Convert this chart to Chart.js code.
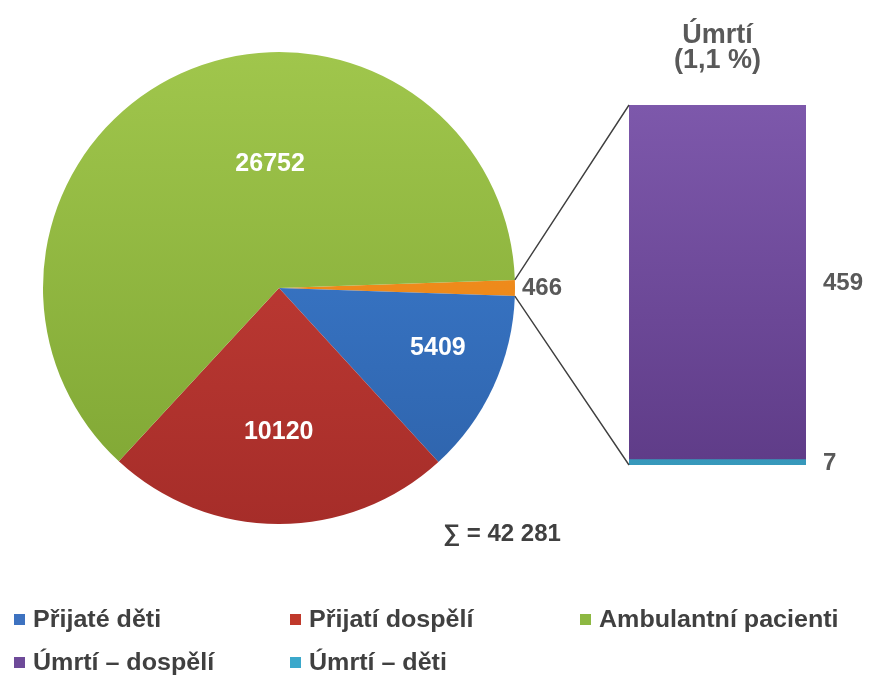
<!DOCTYPE html>
<html><head><meta charset="utf-8">
<script src="https://cdn.jsdelivr.net/npm/chart.js@4"></script>
<style>
html,body{margin:0;padding:0;background:#fff;}
#wrap{position:relative;width:869px;height:681px;overflow:hidden;background:#fff;}
canvas{position:absolute;left:0;top:0;}
</style></head>
<body>
<div id="wrap">
<canvas id="bar" width="869" height="681"></canvas>
<canvas id="pie" width="869" height="681"></canvas>
</div>
<script>
// ---- data ----
const pieCategories = ['Úmrtí', 'Přijaté děti', 'Přijatí dospělí', 'Ambulantní pacienti'];
const pieValues = [466, 5409, 10120, 26752];
const barCategories = ['Úmrtí – děti', 'Úmrtí – dospělí'];   // stacked bottom → top
const barValues = [7, 459];
const barTitle = ['Úmrtí', '(1,1 %)'];
const sumLabel = '∑ = 42 281';
const legendLabels = ['Přijaté děti', 'Přijatí dospělí', 'Ambulantní pacienti', 'Úmrtí – dospělí', 'Úmrtí – děti'];

// ---- styles ----
const FONT = '"Liberation Sans", Arial, sans-serif';
const pieGrad = [
  ['#F7951F', '#E57F17'],
  ['#3F82D8', '#2D61A8'],
  ['#CC423A', '#A62D29'],
  ['#A0C64C', '#7EA533']
];
const legendColors = ['#3D72C0', '#C0392B', '#8DB842', '#6E4A99', '#3BA8CB'];
const barColors = [['#45B1D3', '#3798BB'], ['#7D58AB', '#5F3C88']];

const pieTotal = pieValues.reduce((a, b) => a + b, 0);
const barTotal = barValues.reduce((a, b) => a + b, 0);

function vgrad(chart, stops) {
  const a = chart.chartArea;
  if (!a) return stops[0];
  const g = chart.ctx.createLinearGradient(0, a.top, 0, a.bottom);
  g.addColorStop(0, stops[0]);
  g.addColorStop(1, stops[1]);
  return g;
}

// ---- bar (pie-of-bar breakdown) ----
const barLabels = {
  id: 'barLabels',
  afterDatasetsDraw(chart) {
    const ctx = chart.ctx, a = chart.chartArea;
    ctx.save();
    ctx.fillStyle = '#595959';
    ctx.font = 'bold 24px ' + FONT;
    ctx.textAlign = 'left';
    ctx.textBaseline = 'middle';
    chart.data.datasets.forEach((ds, i) => {
      const el = chart.getDatasetMeta(i).data[0];
      ctx.fillText(String(ds.data[0]), a.right + 17, (el.y + el.base) / 2 + 1);
    });
    ctx.textAlign = 'center';
    ctx.textBaseline = 'alphabetic';
    ctx.font = 'bold 27px ' + FONT;
    const cx = (a.left + a.right) / 2;
    ctx.fillText(barTitle[0], cx, a.top - 62);
    ctx.fillText(barTitle[1], cx, a.top - 37);
    ctx.restore();
  }
};

const barChart = new Chart(document.getElementById('bar'), {
  type: 'bar',
  data: {
    labels: ['Úmrtí'],
    datasets: barCategories.map((name, i) => ({
      label: name,
      data: [barValues[i]],
      backgroundColor: c => vgrad(c.chart, barColors[i]),
      borderWidth: 0,
      categoryPercentage: 1,
      barPercentage: 1
    }))
  },
  options: {
    responsive: false,
    animation: false,
    layout: { padding: { left: 629, right: 63, top: 105, bottom: 216 } },
    scales: {
      x: { display: false, stacked: true },
      y: { display: false, stacked: true, min: 0, max: barTotal }
    },
    plugins: { legend: { display: false }, tooltip: { enabled: false } }
  },
  plugins: [barLabels]
});

// ---- pie ----
const pieExtras = {
  id: 'pieExtras',
  afterDatasetsDraw(chart, args, opts) {
    const ctx = chart.ctx;
    const arcs = chart.getDatasetMeta(0).data;
    ctx.save();
    // connector lines from the small slice to the bar
    const o = arcs[0];
    const ba = barChart.chartArea;
    ctx.strokeStyle = '#3F3F3F';
    ctx.lineWidth = 1.4;
    ctx.beginPath();
    ctx.moveTo(o.x + o.outerRadius * Math.cos(o.startAngle), o.y + o.outerRadius * Math.sin(o.startAngle));
    ctx.lineTo(ba.left, ba.top);
    ctx.moveTo(o.x + o.outerRadius * Math.cos(o.endAngle), o.y + o.outerRadius * Math.sin(o.endAngle));
    ctx.lineTo(ba.left, ba.bottom);
    ctx.stroke();

    // slice labels
    arcs.forEach((arc, i) => {
      const p = opts.place[i];
      const val = String(chart.data.datasets[0].data[i]);
      if (p.outside) {
        ctx.fillStyle = '#595959';
        ctx.font = 'bold 24px ' + FONT;
        ctx.textAlign = 'left';
        ctx.textBaseline = 'middle';
        const mid = (arc.startAngle + arc.endAngle) / 2;
        ctx.fillText(val, arc.x + arc.outerRadius + p.gap, arc.y + arc.outerRadius * Math.sin(mid));
      } else {
        const ang = (arc.startAngle + arc.endAngle) / 2 + p.turn * Math.PI / 180;
        const r = arc.outerRadius * p.radius;
        ctx.fillStyle = '#FFFFFF';
        ctx.font = 'bold 25px ' + FONT;
        ctx.textAlign = 'center';
        ctx.textBaseline = 'middle';
        ctx.fillText(val, arc.x + r * Math.cos(ang), arc.y + r * Math.sin(ang));
      }
    });

    // sum label
    ctx.fillStyle = '#404040';
    ctx.font = 'bold 24px ' + FONT;
    ctx.textAlign = 'left';
    ctx.textBaseline = 'alphabetic';
    ctx.fillText(sumLabel, o.x + 164, o.y + 253);

    // legend
    ctx.font = 'bold 23px ' + FONT;
    ctx.textBaseline = 'alphabetic';
    opts.legend.forEach((pos, i) => {
      ctx.fillStyle = legendColors[i];
      ctx.fillRect(pos[0], pos[1] - 13, 11, 11);
      ctx.fillStyle = '#404040';
      ctx.save();
      ctx.translate(pos[0] + 19, pos[1]);
      ctx.scale(1.09, 1);
      ctx.fillText(legendLabels[i], 0, 0);
      ctx.restore();
    });
    ctx.restore();
  }
};

new Chart(document.getElementById('pie'), {
  type: 'pie',
  data: {
    labels: pieCategories,
    datasets: [{
      data: pieValues,
      backgroundColor: c => vgrad(c.chart, pieGrad[c.dataIndex]),
      borderWidth: 0
    }]
  },
  options: {
    responsive: false,
    animation: false,
    rotation: 90 - (pieValues[0] / pieTotal) * 180,
    layout: { padding: { left: 43, right: 354, top: 52, bottom: 157 } },
    plugins: {
      legend: { display: false },
      tooltip: { enabled: false },
      pieExtras: {
        place: [
          { outside: true, gap: 7 },
          { turn: -4, radius: 0.72 },
          { turn: 0, radius: 0.61 },
          { turn: 20.5, radius: 0.525 }
        ],
        legend: [[14, 627], [290, 627], [580, 627], [14, 670], [290, 670]]
      }
    }
  },
  plugins: [pieExtras]
});
</script>
</body></html>
